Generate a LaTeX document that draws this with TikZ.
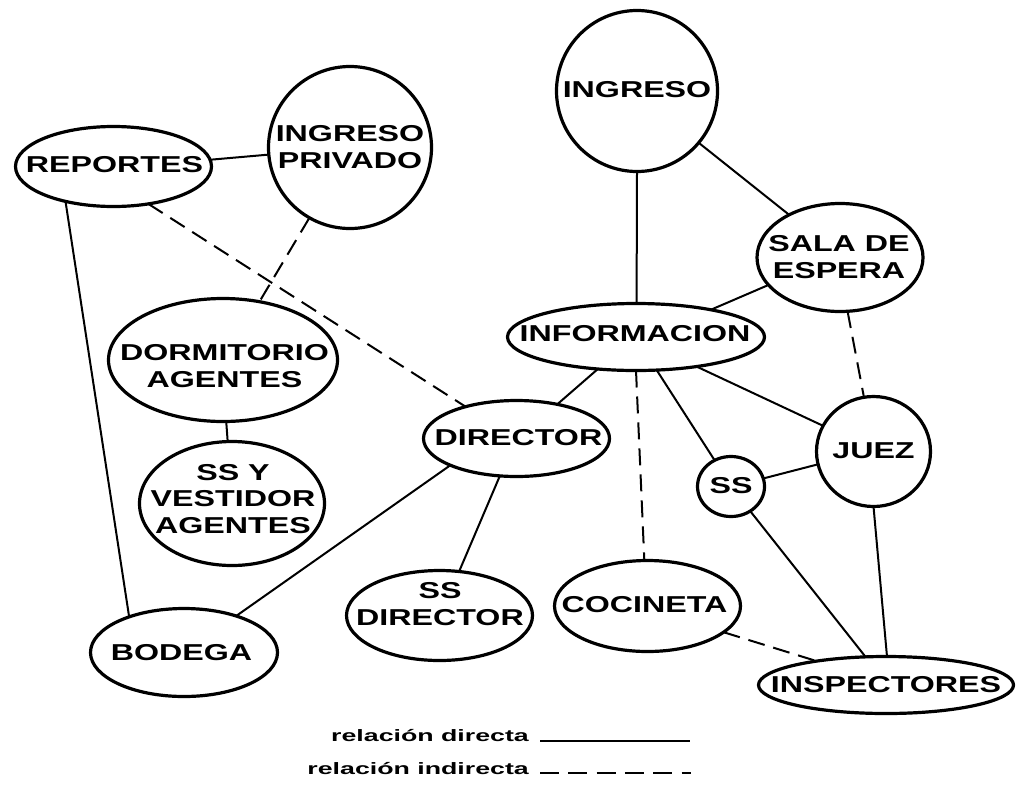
\documentclass[tikz,border=0pt]{standalone}
\usepackage{fontspec}
\newfontfamily\nodefont{Liberation Sans}[FakeStretch=1.40]
\newfontfamily\legfont{Liberation Sans}[FakeStretch=1.62]
\usetikzlibrary{shapes.geometric}
\tikzset{
  ell/.style={ellipse, draw, line width=3.2pt, inner sep=0pt, outer sep=0pt, fill=white},
  lbl/.style={font=\nodefont\bfseries\fontsize{23}{26.5}\selectfont, align=center, inner sep=0pt},
  leg/.style={font=\legfont\bfseries\fontsize{16.5}{19}\selectfont, inner sep=0pt, anchor=base east},
  direct/.style={line width=2pt},
  indirect/.style={line width=2pt, dash pattern=on 17pt off 9pt},
  legind/.style={line width=2pt, dash pattern=on 19pt off 9.3pt},
}
\begin{document}
\begin{tikzpicture}[x=1pt,y=-1pt]
\useasboundingbox (0,0) rectangle (1016,790);
% ellipses
\node[ell, minimum width=161pt, minimum height=161pt] (ing)  at (637,91) {};
\node[ell, minimum width=166pt, minimum height=108pt] (sala) at (840,257.5) {};
\node[ell, minimum width=257pt, minimum height=67pt]  (info) at (636,337) {};
\node[ell, minimum width=196pt, minimum height=80pt]  (rep)  at (113.5,166.5) {};
\node[ell, minimum width=163pt, minimum height=162pt] (ipriv) at (350,147.5) {};
\node[ell, minimum width=229pt, minimum height=123pt] (dorm) at (223,360) {};
\node[ell, minimum width=185pt, minimum height=124pt] (ssy)  at (232,503.5) {};
\node[ell, minimum width=187pt, minimum height=88pt]  (bod)  at (184,652.5) {};
\node[ell, minimum width=186pt, minimum height=76pt]  (dir)  at (516.5,438.5) {};
\node[ell, minimum width=186pt, minimum height=90pt]  (ssd)  at (439.5,615.5) {};
\node[ell, minimum width=186pt, minimum height=91pt]  (coc)  at (647.5,606) {};
\node[ell, minimum width=67pt,  minimum height=60pt]  (ss)   at (731,486.5) {};
\node[ell, minimum width=114pt, minimum height=110pt] (juez) at (873.5,451.5) {};
\node[ell, minimum width=255pt, minimum height=57pt]  (insp) at (886,685) {};
% labels
\node[lbl] (ingT)   at (637,90) {INGRESO};
\node[lbl] (salaT)  at (839,257) {SALA DE\\ESPERA};
\node[lbl] (infoT)  at (635,333.5) {INFORMACION};
\node[lbl] (repT)   at (114.5,164.5) {REPORTES};
\node[lbl] (iprivT) at (350,147) {INGRESO\\PRIVADO};
\node[lbl] (dormT)  at (224.5,366) {DORMITORIO\\AGENTES};
\node[lbl] (ssyT)   at (233,499) {SS Y\\VESTIDOR\\AGENTES};
\node[lbl] (bodT)   at (181.5,653) {BODEGA};
\node[lbl] (dirT)   at (518.5,437.5) {DIRECTOR};
\node[lbl] (ssdT)   at (440,604) {SS\\DIRECTOR};
\node[lbl] (cocT)   at (644.5,605) {COCINETA};
\node[lbl] (ssT)    at (731,485.5) {SS};
\node[lbl] (juezT)  at (873.5,451) {JUEZ};
\node[lbl] (inspT)  at (886,684.5) {INSPECTORES};
% connectors
\draw[direct]   (rep.4.3)    -- (ipriv.185);
\draw[direct]   (rep.216)    -- (bod.147.6);
\draw[indirect] (rep.313.6)  -- (dir.148.4);
\draw[indirect] (ipriv.240.3) -- (dorm.58.3);
\draw[direct]   (dorm.273.6) -- (ssy.94.5);
\draw[direct]   (dir.202.3)  -- (bod.35.7);
\draw[direct]   (dir.246.1)  -- (ssd.66.2);
\draw[direct]   (info.220.5) -- (dir.40.4);
\draw[direct]   (ing.270)    -- (info.89);
\draw[direct]   (ing.320.3)  -- (sala.140.5);
\draw[direct]   (sala.201.7) -- (info.20.9);
\draw[indirect] (sala.278.9) -- (juez.100.5);
\draw[indirect] (info.270)   -- (coc.94.2);
\draw[direct]   (info.302.6) -- (ss.122.8);
\draw[direct]   (info.334.8) -- (juez.153.6);
\draw[direct]   (ss.14)      -- (juez.193.9);
\draw[direct]   (ss.308.4)   -- (insp.126.6);
\draw[direct]   (juez.270)   -- (insp.88);
\draw[indirect] (coc.341.5)  -- (insp.161.1);
% legend
\node[leg] (legd) at (529,741) {relación directa};
\node[leg] (legi) at (529,774) {relación indirecta};
\coordinate (l1a) at (540,740.5);
\coordinate (l1b) at (690,740.5);
\coordinate (l2a) at (540,773);
\coordinate (l2b) at (691,773);
\draw[direct] (l1a) -- (l1b);
\draw[legind] (l2a) -- (l2b);
\end{tikzpicture}
\end{document}
